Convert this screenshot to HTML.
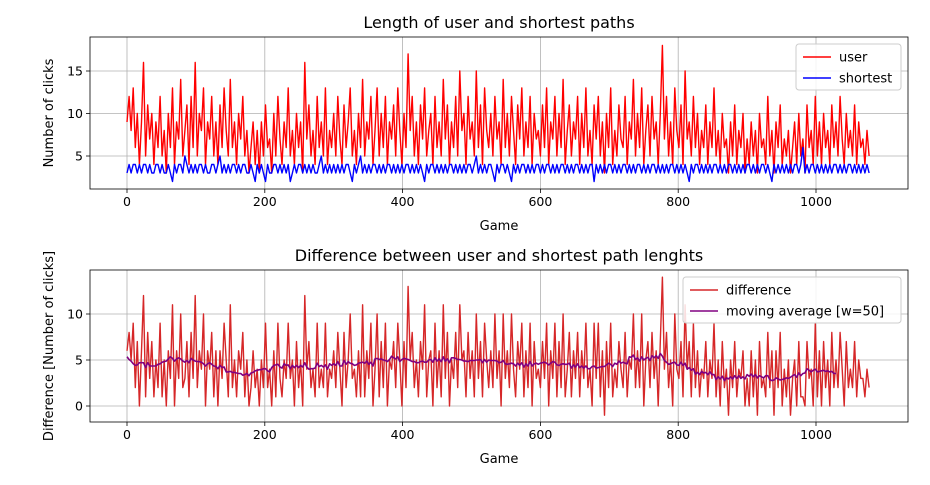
<!DOCTYPE html>
<html><head><meta charset="utf-8"><style>
body{margin:0;background:#fff;font-family:"Liberation Sans","DejaVu Sans",sans-serif;}
svg text{font-family:"DejaVu Sans","Liberation Sans",sans-serif;}
</style></head><body>
<svg id="c" width="930" height="480" xmlns="http://www.w3.org/2000/svg"></svg>
<script>
const gameStep = 3;
const userClicks = [
9,12,8,13,6,10,4,9,16,5,11,7,10,4,9,6,12,5,8,3,
10,6,13,4,9,7,14,5,8,11,4,12,6,16,5,10,8,13,4,9,
7,12,5,9,4,11,6,13,8,5,14,6,9,4,10,7,12,5,8,3,
6,9,4,8,3,9,5,11,6,7,3,10,5,12,7,4,9,6,13,5,
8,4,10,6,9,3,16,7,11,5,8,4,12,6,9,5,13,4,8,6,
10,5,12,7,4,11,6,9,13,5,8,4,10,6,14,5,9,7,12,4,
8,13,5,10,6,12,4,9,7,11,5,13,8,4,10,6,17,8,12,5,
9,4,11,7,13,5,8,10,4,12,6,9,5,14,7,11,4,9,6,12,
5,15,8,10,4,12,7,9,5,15,6,11,4,13,8,6,10,5,12,7,
9,4,14,6,10,5,12,8,4,11,7,13,5,9,6,12,4,10,7,8,
5,11,6,13,4,9,7,12,5,10,6,14,4,8,11,5,9,7,12,4,
10,6,13,5,8,4,11,7,12,5,9,3,10,6,13,4,8,5,11,7,
6,12,4,9,7,14,5,10,6,13,4,8,11,5,12,7,9,4,10,18,
7,12,5,9,4,13,8,6,11,4,15,7,9,5,12,6,10,4,8,6,
11,4,9,6,13,5,8,4,10,6,7,3,9,5,11,4,8,6,10,3,
7,4,9,5,8,3,10,6,7,4,12,5,8,3,9,6,11,4,7,5,
8,3,6,9,4,10,5,7,3,11,6,8,4,12,5,9,4,10,6,8,
4,11,6,9,5,12,7,4,10,6,8,5,11,4,9,6,7,4,8,5];
const shortestClicks = [
3,4,3,4,4,3,4,3,4,4,3,4,3,3,4,4,3,4,3,3,
4,3,2,4,3,4,4,3,5,4,3,4,3,4,3,4,4,3,4,3,
3,4,4,3,4,5,3,4,3,4,3,4,4,3,4,3,4,4,3,3,
4,3,2,4,3,4,3,2,4,3,3,4,4,3,4,3,4,3,4,2,
3,4,3,4,4,3,4,3,4,3,4,3,3,4,5,3,4,3,4,3,
4,3,4,3,4,3,4,4,3,2,4,3,4,5,3,4,3,4,3,4,
4,3,4,3,4,3,4,4,3,4,3,4,3,4,3,4,4,3,4,3,
4,3,4,3,2,4,3,4,4,3,4,3,4,3,4,3,4,4,3,4,
3,4,3,4,3,4,4,3,4,5,3,4,3,4,3,4,4,3,2,4,
3,4,4,3,4,3,2,4,3,4,3,4,4,3,4,3,4,3,4,4,
3,4,3,4,4,3,4,3,4,3,4,4,3,4,3,4,3,4,4,3,
4,3,4,3,4,4,2,4,3,4,3,4,3,4,4,3,4,3,4,3,
4,4,3,4,3,4,3,4,4,3,4,3,4,3,4,4,3,4,3,4,
3,4,3,4,4,3,4,3,4,3,4,3,2,4,3,4,4,3,4,3,
4,3,4,3,4,4,3,4,3,4,3,4,4,3,4,3,4,3,4,3,
4,4,3,4,3,4,3,4,4,3,4,3,2,4,3,4,3,4,3,4,
3,4,3,4,4,3,4,6,3,4,3,4,4,3,4,3,4,3,4,3,
4,3,4,4,3,4,3,4,3,4,4,3,4,3,4,3,4,3,4,3];
const xTicks = [0,200,400,600,800,1000];
const yTicksTop = [5,10,15];
const yTicksBottom = [0,5,10];
const maWindowSamples = 17;

const NS="http://www.w3.org/2000/svg", svg=document.getElementById('c');
function el(tag,attrs,parent){const e=document.createElementNS(NS,tag);for(const k in attrs)e.setAttribute(k,attrs[k]);(parent||svg).appendChild(e);return e;}
const xScale = g => 127 + g*0.689;
const yTop = v => 156 - (v-5)*8.5;
const yBot = v => 406 - v*9.2;

const diff = userClicks.map((u,i)=>u-shortestClicks[i]);
const ma = [];
for(let i=0;i+maWindowSamples<=diff.length;i++){let s=0;for(let j=0;j<maWindowSamples;j++)s+=diff[i+j];ma.push(s/maWindowSamples);}

function axes(top,h,yTicks,yf,title,ylabel,nm){
  const g=el('g',{});  
  xTicks.forEach(t=>{const x=xScale(t);
    const gl=el('line',{x1:x,x2:x,y1:top,y2:top+h,stroke:'#b0b0b0','stroke-width':0.8},g);
    el('line',{x1:x,x2:x,y1:top+h,y2:top+h+4,stroke:'#000','stroke-width':0.8},g);
    const tx=el('text',{x:x,y:top+h+17,'font-size':12.5,'text-anchor':'middle'},g);tx.textContent=t;});
  yTicks.forEach(t=>{const y=yf(t);
    const gl=el('line',{x1:90,x2:908,y1:y,y2:y,stroke:'#b0b0b0','stroke-width':0.8},g);
    el('line',{x1:86,x2:90,y1:y,y2:y,stroke:'#000','stroke-width':0.8},g);
    const tx=el('text',{x:83,y:y+4.5,'font-size':12.5,'text-anchor':'end'},g);tx.textContent=t;});
  const t=el('text',{x:499,y:top-9,'font-size':16,'text-anchor':'middle'},g);t.textContent=title;
  const xl=el('text',{x:499,y:top+h+41,'font-size':13,'text-anchor':'middle'},g);xl.textContent='Game';
  const yl=el('text',{x:0,y:0,'font-size':13,'text-anchor':'middle',transform:`translate(53,${top+h/2}) rotate(-90)`},g);yl.textContent=ylabel;
  return g;
}
function line(vals,yf,color,w,nm,parent){
  const d=vals.map((v,i)=>(i?'L':'M')+xScale(i*gameStep).toFixed(1)+','+yf(v).toFixed(1)).join('');
  const p=el('path',{d:d,fill:'none',stroke:color,'stroke-width':w,'stroke-linejoin':'round'},parent);
  
}
function frame(top,h){el('rect',{x:90,y:top,width:818,height:h,fill:'none',stroke:'#000','stroke-width':0.8});}
function legend(x,y,w,items,nm){
  const g=el('g',{});
  el('rect',{x:x,y:y,width:w,height:46,rx:3,fill:'#fff','fill-opacity':0.85,stroke:'#ccc'},g);
  items.forEach((it,i)=>{const yy=y+13+i*21;
    const ln=el('line',{x1:x+7,x2:x+35,y1:yy,y2:yy,stroke:it[1],'stroke-width':1.6},g);
    const t=el('text',{x:x+43,y:yy+4.5,'font-size':13},g);t.textContent=it[0];});
}

axes(37,152,yTicksTop,yTop,'Length of user and shortest paths','Number of clicks','top-axes');
const gTop=el('g',{'clip-path':'url(#ct)'});
el('clipPath',{id:'ct'}).appendChild(Object.assign(document.createElementNS(NS,'rect'),{}));
document.getElementById('ct').firstChild.setAttribute('x',90);
document.getElementById('ct').firstChild.setAttribute('y',37);
document.getElementById('ct').firstChild.setAttribute('width',818);
document.getElementById('ct').firstChild.setAttribute('height',152);
line(userClicks,yTop,'#ff0000',1.4,'user-line',gTop);
line(shortestClicks,yTop,'#0000ff',1.4,'shortest-line',gTop);
frame(37,152);
legend(796,44,105,[['user','#ff0000'],['shortest','#0000ff']],'top-legend');

axes(270,152,yTicksBottom,yBot,'Difference between user and shortest path lenghts','Difference [Number of clicks]','bottom-axes');
const gBot=el('g',{});
line(diff,yBot,'#d62728',1.4,'difference-line',gBot);
line(ma,yBot,'#800080',1.6,'moving-average-line',gBot);
frame(270,152);
legend(683,277,218,[['difference','#d62728'],['moving average [w=50]','#800080']],'bottom-legend');
</script>
</body></html>
